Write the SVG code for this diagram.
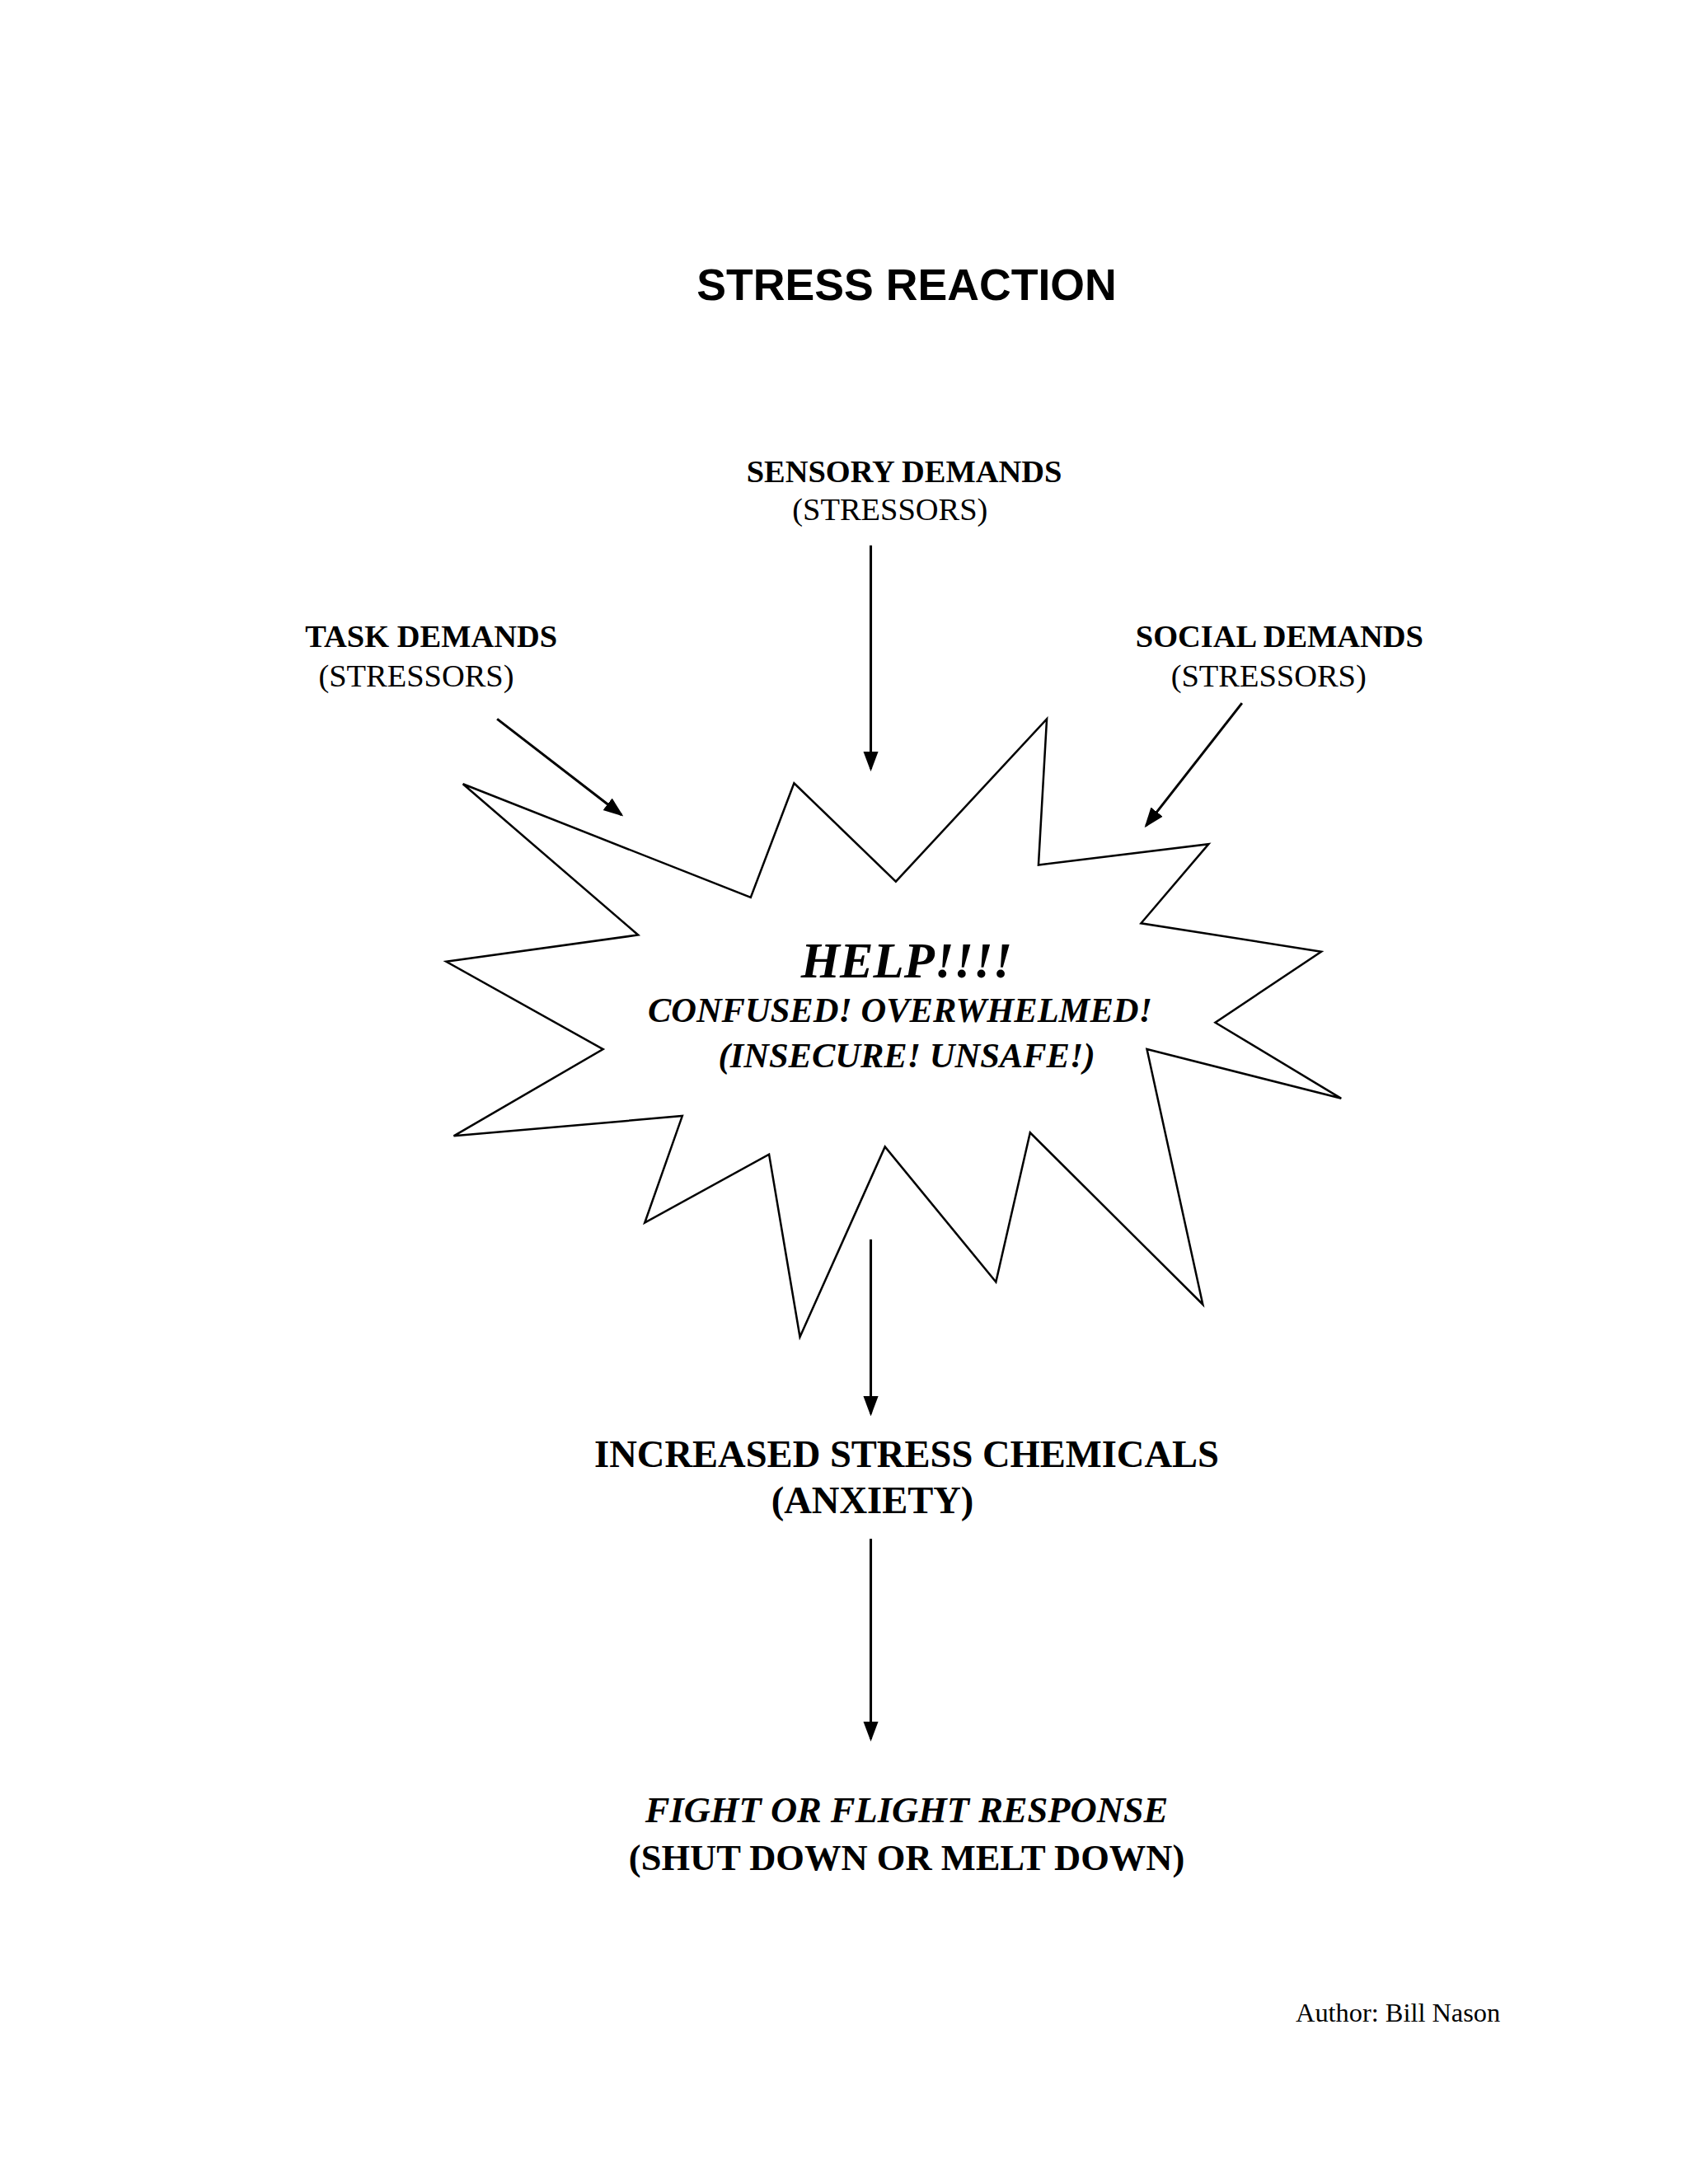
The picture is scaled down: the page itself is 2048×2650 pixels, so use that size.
<svg xmlns="http://www.w3.org/2000/svg" width="2048" height="2650" viewBox="0 0 2048 2650">
<style>
.t{font-family:"Liberation Serif",serif;text-anchor:middle;fill:#000}
.b{font-weight:bold}
.i{font-style:italic}
.c{stroke:#000;stroke-width:3;fill:none;marker-end:url(#ah)}
</style>
<defs><marker id="ah" markerWidth="8" markerHeight="8" refX="7" refY="4" orient="auto" markerUnits="strokeWidth"><path d="M0,1 L8,4 L0,7 z" fill="#000"/></marker></defs>
<rect width="2048" height="2650" fill="#fff"/>
<g transform="scale(1.012)">
<text x="1087" y="360" style="font-family:'Liberation Sans',sans-serif;font-weight:bold;font-size:53px;text-anchor:middle">STRESS REACTION</text>
<g id="sensory"><text class="t b" x="1084" y="578" font-size="38">SENSORY DEMANDS</text><text class="t" x="1067" y="624" font-size="38">(STRESSORS)</text></g>
<g id="task"><text class="t b" x="517" y="776" font-size="38">TASK DEMANDS</text><text class="t" x="499" y="823" font-size="38">(STRESSORS)</text></g>
<g id="social"><text class="t b" x="1534" y="776" font-size="38">SOCIAL DEMANDS</text><text class="t" x="1521" y="823" font-size="38">(STRESSORS)</text></g>
<g id="star">
<polygon points="555,940 900,1076 952,939 1074,1057 1255,862 1245,1037 1449,1012 1368,1107 1584,1141 1457,1226 1608,1317 1375,1258 1442,1564 1235,1358 1194,1537 1061,1375 959,1603 922,1384 773,1466 818,1338 544,1362 723,1258 535,1153 765,1121" fill="#fff" stroke="#000" stroke-width="2.5"/>
<text class="t b i" x="1087" y="1172" font-size="60">HELP!!!!</text>
<text class="t b i" x="1079" y="1225" font-size="42">CONFUSED!  OVERWHELMED!</text>
<text class="t b i" x="1087" y="1280" font-size="42">(INSECURE! UNSAFE!)</text>
</g>
<g id="chem"><text class="t b" x="1087" y="1759" font-size="46">INCREASED STRESS CHEMICALS</text><text class="t b" x="1046" y="1814" font-size="46">(ANXIETY)</text></g>
<g id="fight"><text class="t b i" x="1087" y="2185" font-size="44">FIGHT OR FLIGHT RESPONSE</text><text class="t b" x="1087" y="2242" font-size="44">(SHUT DOWN OR MELT DOWN)</text></g>
<text class="t" x="1676" y="2424" font-size="32">Author: Bill Nason</text>
<g id="connectors">
<line class="c" x1="1044" y1="654" x2="1044" y2="922"/>
<line class="c" x1="596" y1="862" x2="745" y2="977"/>
<line class="c" x1="1489" y1="843" x2="1374" y2="990"/>
<line class="c" x1="1044" y1="1486" x2="1044" y2="1695"/>
<line class="c" x1="1044" y1="1845" x2="1044" y2="2085"/>
</g>
</g>
</svg>
